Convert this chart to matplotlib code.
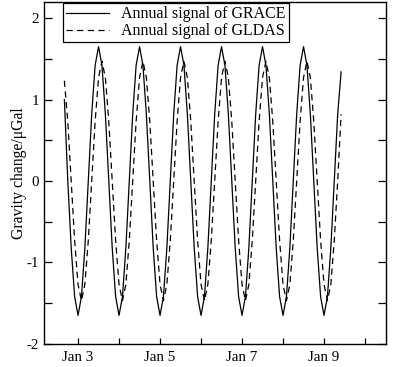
import matplotlib
matplotlib.use("Agg")
import matplotlib.pyplot as plt
from matplotlib.ticker import FixedLocator, MultipleLocator

plt.rcParams['font.family'] = ['Liberation Serif', 'DejaVu Serif']
plt.rcParams['mathtext.fontset'] = 'stix'

# Monthly samples, Sep 2002 .. Jun 2009 (decimal years computed from year/month)
start_year, start_month = 2002, 9
grace = [
    1.00, 0.00, -0.82, -1.42,                                                   # 2002 Sep-Dec
    -1.65, -1.42, -0.82, 0.00, 0.82, 1.42, 1.65, 1.42, 0.82, 0.00, -0.82, -1.42,  # 2003
    -1.65, -1.42, -0.82, 0.00, 0.82, 1.42, 1.65, 1.42, 0.82, 0.00, -0.82, -1.42,  # 2004
    -1.65, -1.42, -0.82, 0.00, 0.82, 1.42, 1.65, 1.42, 0.82, 0.00, -0.82, -1.42,  # 2005
    -1.65, -1.42, -0.82, 0.00, 0.82, 1.42, 1.65, 1.42, 0.82, 0.00, -0.82, -1.42,  # 2006
    -1.65, -1.42, -0.82, 0.00, 0.82, 1.42, 1.65, 1.42, 0.82, 0.00, -0.82, -1.42,  # 2007
    -1.65, -1.42, -0.82, 0.00, 0.82, 1.42, 1.65, 1.42, 0.82, 0.00, -0.82, -1.42,  # 2008
    -1.65, -1.42, -0.82, 0.00, 0.82, 1.34,                                       # 2009 Jan-Jun
]
gldas = [
    1.23, 0.73, 0.00, -0.73,                                                    # 2002 Sep-Dec
    -1.27, -1.47, -1.27, -0.73, 0.00, 0.73, 1.27, 1.47, 1.27, 0.73, 0.00, -0.73,  # 2003
    -1.27, -1.47, -1.27, -0.73, 0.00, 0.73, 1.27, 1.47, 1.27, 0.73, 0.00, -0.73,  # 2004
    -1.27, -1.47, -1.27, -0.73, 0.00, 0.73, 1.27, 1.47, 1.27, 0.73, 0.00, -0.73,  # 2005
    -1.27, -1.47, -1.27, -0.73, 0.00, 0.73, 1.27, 1.47, 1.27, 0.73, 0.00, -0.73,  # 2006
    -1.27, -1.47, -1.27, -0.73, 0.00, 0.73, 1.27, 1.47, 1.27, 0.73, 0.00, -0.73,  # 2007
    -1.27, -1.47, -1.27, -0.73, 0.00, 0.73, 1.27, 1.47, 1.27, 0.73, 0.00, -0.73,  # 2008
    -1.27, -1.47, -1.27, -0.73, 0.00, 0.82,                                      # 2009 Jan-Jun
]
labels = ["Annual signal of GRACE", "Annual signal of GLDAS"]
xtick_years = [2003, 2005, 2007, 2009]
xtick_labels = ["Jan 3", "Jan 5", "Jan 7", "Jan 9"]
xminor_years = [2004, 2006, 2008, 2010]

t = [start_year + (start_month - 1 + i) / 12.0 for i in range(len(grace))]

fig = plt.figure(figsize=(3.93, 3.67), dpi=100)
ax = fig.add_axes([0.112, 0.063, 0.870, 0.932])

ax.plot(t, grace, color='black', lw=0.9, label=labels[0])
ax.plot(t, gldas, color='black', lw=0.9, ls=(0, (5, 3.5)), label=labels[1])

ax.set_xlim(2002.17, 2010.51)
ax.set_ylim(-2, 2.2)
ax.xaxis.set_major_locator(FixedLocator(xtick_years))
ax.set_xticklabels(xtick_labels)
ax.xaxis.set_minor_locator(FixedLocator(xminor_years))
ax.set_yticks([-2, -1, 0, 1, 2])
ax.set_yticklabels(["-2", "-1", "0", "1", "2"])
ax.yaxis.set_minor_locator(MultipleLocator(0.5))

ax.tick_params(axis='both', which='both', direction='in', labelsize=10.8)
ax.tick_params(axis='y', which='both', length=5.5, width=0.9, right=True, left=True)
ax.tick_params(axis='x', which='both', length=4.5, width=0.9, top=False)
ax.tick_params(axis='x', which='major', pad=5)
for s in ax.spines.values():
    s.set_linewidth(1.0)

ax.set_ylabel("Gravity change/\u03bcGal", fontsize=11.3, labelpad=0)

leg = ax.legend(loc='upper left', bbox_to_anchor=(0.056, 0.996), fontsize=11.5,
                frameon=True, fancybox=False, edgecolor='black', framealpha=1,
                handlelength=2.7, borderpad=0.2, labelspacing=0.05,
                handletextpad=0.75, borderaxespad=0)
leg.get_frame().set_linewidth(0.9)

fig.savefig("out.png", dpi=100)
